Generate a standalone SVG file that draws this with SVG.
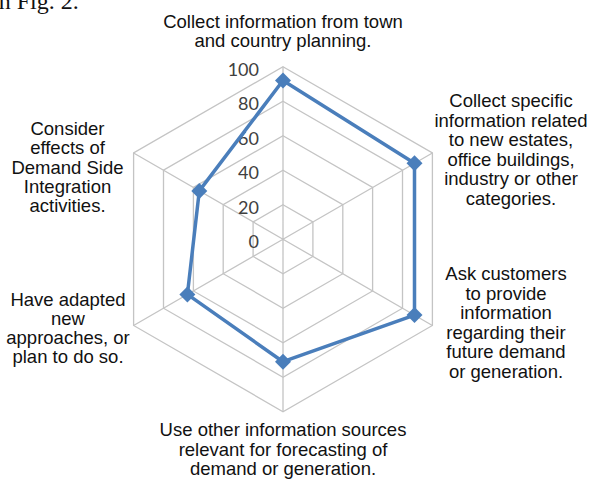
<svg xmlns="http://www.w3.org/2000/svg" width="590" height="480" viewBox="0 0 590 480">
<style>
.grid{fill:none;stroke:#c4c4c4;stroke-width:1.3}
.lbl{font-family:"Liberation Sans",Arial,sans-serif;font-size:18.5px;fill:#111;text-anchor:middle}
.tick{font-family:Lato,"Liberation Sans",sans-serif;font-size:18px;fill:#404040;text-anchor:end}
.series{fill:none;stroke:#4a7ebb;stroke-width:3.5;stroke-linejoin:round}
.mk{fill:#4a7ebb}
</style>
<defs>
<path id="dia" d="M0,-8 L8,0 L0,8 L-8,0 Z"/>
</defs>
<rect width="590" height="480" fill="#fff"/>
<text x="-8" y="9" font-family="Liberation Serif,serif" font-size="24" fill="#111">in Fig. 2.</text>
<g id="grid">
<polygon class="grid" points="283,204.7 312.9,221.95 312.9,256.45 283,273.7 253.1,256.45 253.1,221.95"/>
<polygon class="grid" points="283,170.2 342.8,204.7 342.8,273.7 283,308.2 223.2,273.7 223.2,204.7"/>
<polygon class="grid" points="283,135.7 372.6,187.45 372.6,290.95 283,342.7 193.4,290.95 193.4,187.45"/>
<polygon class="grid" points="283,101.2 402.5,170.2 402.5,308.2 283,377.2 163.5,308.2 163.5,170.2"/>
<polygon class="grid" points="283,66.7 432.4,152.95 432.4,325.45 283,411.7 133.6,325.45 133.6,152.95"/>
<path class="grid" d="M283,239.2 L283,66.7 M283,239.2 L432.4,152.95 M283,239.2 L432.4,325.45 M283,239.2 L283,411.7 M283,239.2 L133.6,325.45 M283,239.2 L133.6,152.95"/>
</g>
<g id="ticks">
<text class="tick" x="259" y="76">100</text>
<text class="tick" x="259" y="110">80</text>
<text class="tick" x="259" y="145">60</text>
<text class="tick" x="259" y="179">40</text>
<text class="tick" x="259" y="214">20</text>
<text class="tick" x="259" y="248">0</text>
</g>
<g id="connectors">
<polygon class="series" points="283,80.5 414.5,163.3 414.5,315.1 283,361.7 187.4,294.4 199.3,190.9"/>
</g>
<g id="markers">
<use href="#dia" class="mk" x="283" y="80.5"/>
<use href="#dia" class="mk" x="414.5" y="163.3"/>
<use href="#dia" class="mk" x="414.5" y="315.1"/>
<use href="#dia" class="mk" x="283" y="361.7"/>
<use href="#dia" class="mk" x="187.4" y="294.4"/>
<use href="#dia" class="mk" x="199.3" y="190.9"/>
</g>
<g id="label-top">
<text class="lbl" x="283" y="28">Collect information from town</text>
<text class="lbl" x="283" y="47">and country planning.</text>
</g>
<g id="label-upper-right">
<text class="lbl" x="511" y="107">Collect specific</text>
<text class="lbl" x="511" y="126.5">information related</text>
<text class="lbl" x="511" y="146">to new estates,</text>
<text class="lbl" x="511" y="165.5">office buildings,</text>
<text class="lbl" x="511" y="185">industry or other</text>
<text class="lbl" x="511" y="204.5">categories.</text>
</g>
<g id="label-lower-right">
<text class="lbl" x="506" y="280">Ask customers</text>
<text class="lbl" x="506" y="299.5">to provide</text>
<text class="lbl" x="506" y="319">information</text>
<text class="lbl" x="506" y="338.5">regarding their</text>
<text class="lbl" x="506" y="358">future demand</text>
<text class="lbl" x="506" y="377.5">or generation.</text>
</g>
<g id="label-bottom">
<text class="lbl" x="283" y="436">Use other information sources</text>
<text class="lbl" x="283" y="455.5">relevant for forecasting of</text>
<text class="lbl" x="283" y="475">demand or generation.</text>
</g>
<g id="label-lower-left">
<text class="lbl" x="68" y="306">Have adapted</text>
<text class="lbl" x="68" y="325">new</text>
<text class="lbl" x="68" y="344">approaches, or</text>
<text class="lbl" x="68" y="363">plan to do so.</text>
</g>
<g id="label-upper-left">
<text class="lbl" x="67.5" y="135">Consider</text>
<text class="lbl" x="67.5" y="154.25">effects of</text>
<text class="lbl" x="67.5" y="173.5">Demand Side</text>
<text class="lbl" x="67.5" y="192.75">Integration</text>
<text class="lbl" x="67.5" y="212">activities.</text>
</g>
</svg>
